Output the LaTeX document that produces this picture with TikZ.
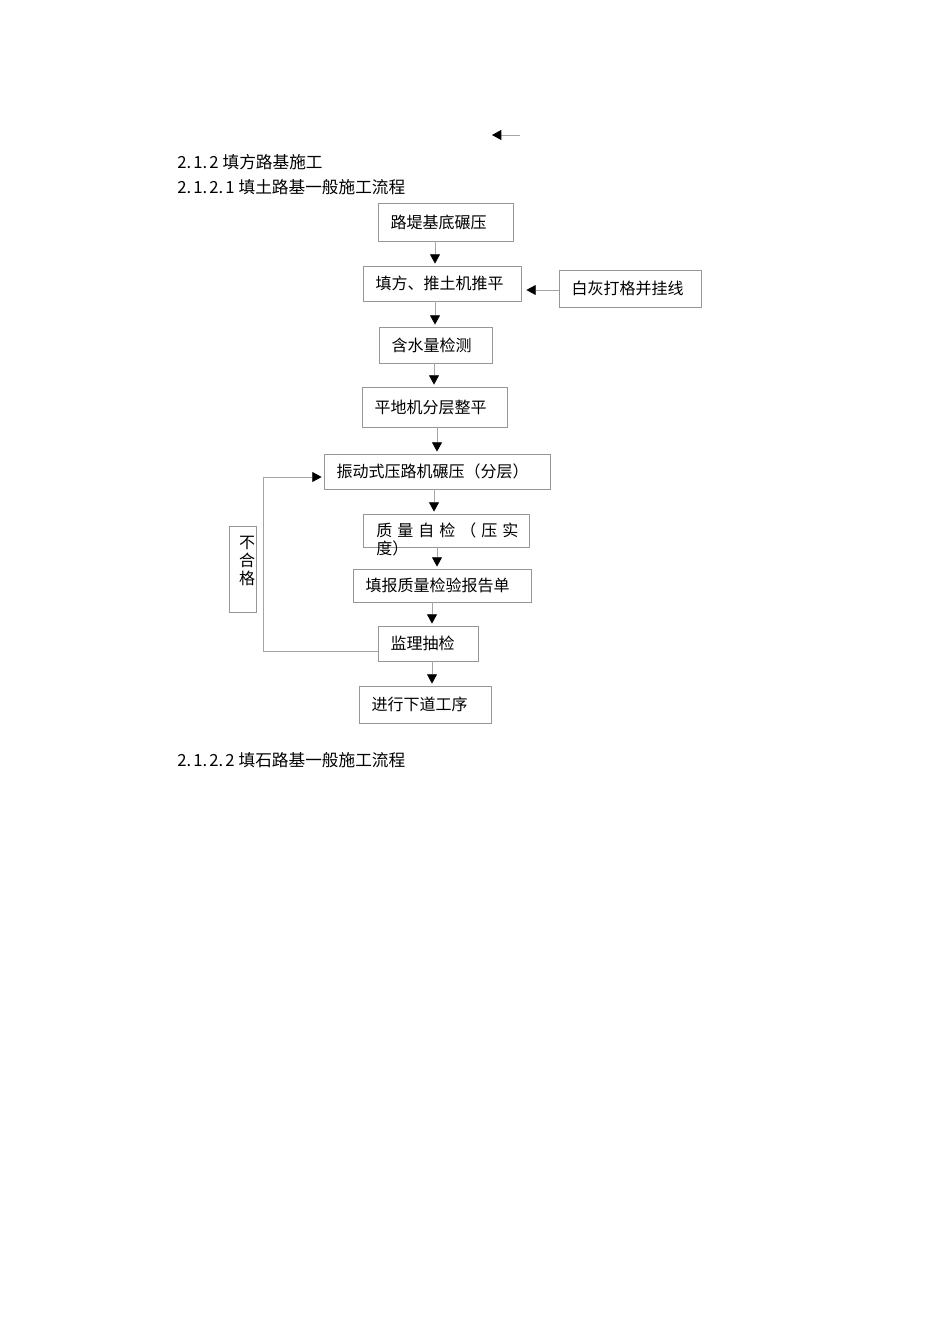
\documentclass[tikz,border=0pt]{standalone}
\usepackage{fontspec}
\setmainfont{Noto Sans CJK SC}
\usetikzlibrary{arrows.meta}
\definecolor{boxgray}{RGB}{150,150,150}
\definecolor{linegray}{RGB}{165,165,165}
% one section number part, two half-width cells wide
\newcommand{\dn}[1]{\makebox[12pt][l]{#1.}}

\begin{document}
\begin{tikzpicture}[x=0.75pt, y=-0.75pt,
font=\fontsize{12pt}{13.5pt}\selectfont,
box/.style={draw=boxgray, line width=0.6pt, inner xsep=9.5pt, inner ysep=0pt, align=left},
flow/.style={draw=linegray, line width=0.6pt, shorten >=1.5pt,
  -{Triangle[color=black, length=7pt, width=7.5pt]}},
head/.style={anchor=west, inner sep=0pt, font=\fontsize{12.5pt}{14pt}\selectfont}]

\useasboundingbox (0,0) rectangle (950,1344);

% headings
\node[head] (h1) at (177,162) {\dn{2}\dn{1}\makebox[6pt][l]{2}\hspace{4pt}填方路基施工};
\node[head] (h2) at (177,187) {\dn{2}\dn{1}\dn{2}\makebox[6pt][l]{1}\hspace{4pt}填土路基一般施工流程};
\node[head] (h3) at (177,760) {\dn{2}\dn{1}\dn{2}\makebox[6pt][l]{2}\hspace{4pt}填石路基一般施工流程};

% stray arrow at the top
\coordinate (s1) at (520,135);
\coordinate (s2) at (492,135);
\draw[flow, shorten >=0pt] (s1) -- (s2);

% process boxes
\node[box, text width=82.25pt, minimum height=28.5pt] (base) at (445.5,222) {路堤基底碾压};
\node[box, text width=99.5pt, minimum height=26.25pt] (fill) at (442,283.5) {填方、推土机推平};
\node[box, text width=87.5pt, minimum height=27.75pt] (lime) at (630,288.5) {白灰打格并挂线};
\node[box, text width=65.75pt, minimum height=27pt] (water) at (435.5,345) {含水量检测};
\node[box, text width=89.75pt, minimum height=30pt] (grade) at (434.5,407) {平地机分层整平};
\node[box, text width=150.5pt, minimum height=26.25pt] (press) at (437,471.5) {振动式压路机碾压（分层）};
\node[box, minimum width=124.5pt, minimum height=24.75pt] (self) at (446,530.5) {};
\node[anchor=west, inner sep=0pt, align=left] (selftxt) at (376,539)
  {质\hspace{3.75pt}量\hspace{3.75pt}自\hspace{3.75pt}检\hspace{3.75pt}（\hspace{3.75pt}压\hspace{3.75pt}实\\度）};
\node[box, text width=114.5pt, minimum height=24.75pt] (report) at (442,585.5) {填报质量检验报告单};
\node[box, text width=56pt, minimum height=26.25pt] (check) at (428,643.5) {监理抽检};
\node[box, text width=80pt, minimum height=27.75pt] (next) at (425,704.5) {进行下道工序};
\node[box, inner xsep=0pt, minimum width=20.25pt, minimum height=64.5pt] (fail) at (242.5,569) {};
\node[align=center, inner sep=0pt] (failtxt) at (247,561) {不\\合\\格};

% main flow
\draw[flow] (base.south -| 435,0) -- (fill.north -| 435,0);
\draw[flow] (fill.south -| 435,0) -- (water.north -| 435,0);
\draw[flow] (water.south -| 434,0) -- (grade.north -| 434,0);
\draw[flow] (grade.south -| 437,0) -- (press.north -| 437,0);
\draw[flow] (press.south -| 434,0) -- (self.north -| 434,0);
\draw[flow] (self.south -| 437,0) -- (report.north -| 437,0);
\draw[flow] (report.south -| 432,0) -- (check.north -| 432,0);
\draw[flow] (check.south -| 432,0) -- (next.north -| 432,0);

% side input
\draw[flow, shorten >=3.75pt] (lime.west |- 0,290) -- (fill.east |- 0,290);

% rework loop
\draw[flow] (check.west |- 0,651) -- (263,651) |- (press.west |- 0,477);
\end{tikzpicture}
\end{document}
